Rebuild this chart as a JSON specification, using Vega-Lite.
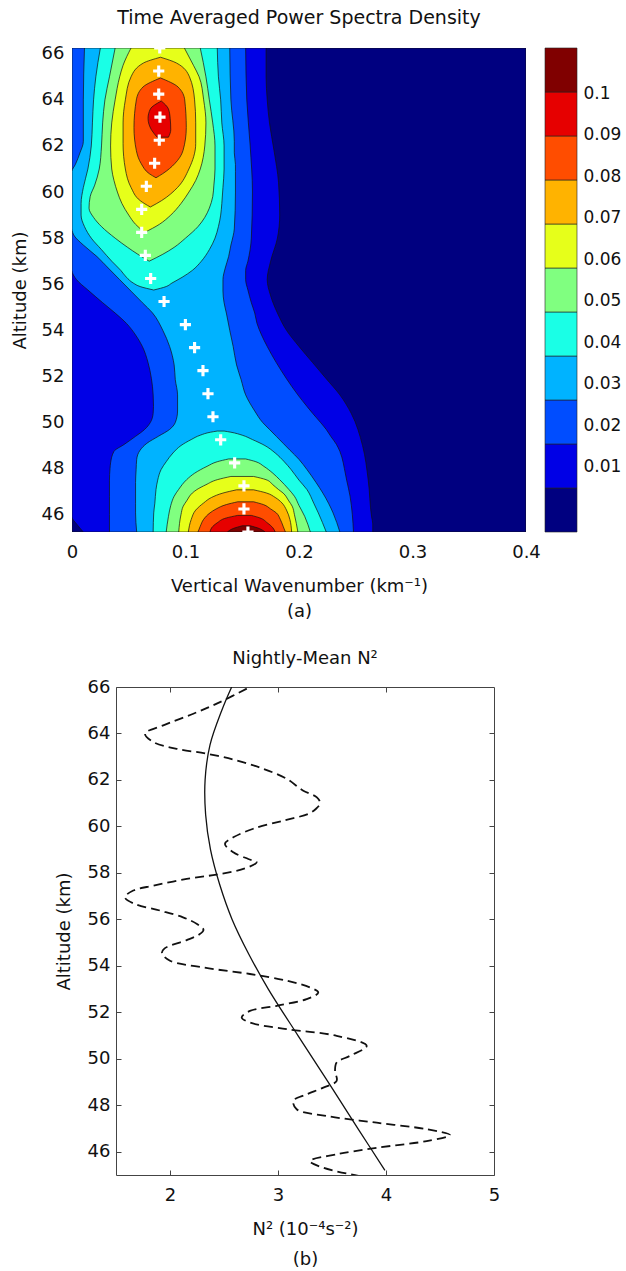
{
"$schema": "https://vega.github.io/schema/vega-lite/v6.json",
"background": "white",
"padding": {"left": 11, "top": 8, "right": 0, "bottom": 0},
"config": {
  "font": "DejaVu Sans",
  "view": {"stroke": null},
  "axis": {"labelFont": "DejaVu Sans", "titleFont": "DejaVu Sans", "labelColor": "#111", "titleColor": "#111", "titleFontWeight": "normal", "grid": false, "labelFontSize": 18, "titleFontSize": 18},
  "title": {"font": "DejaVu Sans", "fontWeight": "normal", "color": "#111"}
},
"datasets": {
  "contour": [
    {"lev":0,"p":"a","alt":45.25,"xl":0,"xr":0.4},{"lev":0,"p":"a","alt":66.25,"xl":0,"xr":0.4},
    {"lev":1,"p":"a","alt":45.25,"xl":0.010,"xr":0.265},{"lev":1,"p":"a","alt":45.6,"xl":0.004,"xr":0.265},{"lev":1,"p":"a","alt":45.9,"xl":0,"xr":0.264},{"lev":1,"p":"a","alt":47.5,"xl":0,"xr":0.261},{"lev":1,"p":"a","alt":49.0,"xl":0,"xr":0.256},{"lev":1,"p":"a","alt":50.4,"xl":0,"xr":0.246},{"lev":1,"p":"a","alt":51.2,"xl":0,"xr":0.236},{"lev":1,"p":"a","alt":51.9,"xl":0,"xr":0.224},{"lev":1,"p":"a","alt":52.6,"xl":0,"xr":0.212},{"lev":1,"p":"a","alt":53.3,"xl":0,"xr":0.200},{"lev":1,"p":"a","alt":54.0,"xl":0,"xr":0.189},{"lev":1,"p":"a","alt":54.75,"xl":0,"xr":0.181},{"lev":1,"p":"a","alt":55.5,"xl":0,"xr":0.175},{"lev":1,"p":"a","alt":56.2,"xl":0,"xr":0.172},{"lev":1,"p":"a","alt":57.0,"xl":0,"xr":0.175},{"lev":1,"p":"a","alt":58.0,"xl":0,"xr":0.181},{"lev":1,"p":"a","alt":59.0,"xl":0,"xr":0.183},{"lev":1,"p":"a","alt":60.4,"xl":0,"xr":0.182},{"lev":1,"p":"a","alt":61.8,"xl":0,"xr":0.178},{"lev":1,"p":"a","alt":63.0,"xl":0,"xr":0.174},{"lev":1,"p":"a","alt":64.0,"xl":0,"xr":0.172},{"lev":1,"p":"a","alt":65.0,"xl":0,"xr":0.171},{"lev":1,"p":"a","alt":66.25,"xl":0,"xr":0.171},
    {"lev":2,"p":"a","alt":45.25,"xl":0.033,"xr":0.248},{"lev":2,"p":"a","alt":46.0,"xl":0.033,"xr":0.247},{"lev":2,"p":"a","alt":46.8,"xl":0.033,"xr":0.245},{"lev":2,"p":"a","alt":47.5,"xl":0.033,"xr":0.242},{"lev":2,"p":"a","alt":48.0,"xl":0.0335,"xr":0.240},{"lev":2,"p":"a","alt":48.25,"xl":0.034,"xr":0.239},{"lev":2,"p":"a","alt":48.75,"xl":0.037,"xr":0.236},{"lev":2,"p":"a","alt":49.05,"xl":0.046,"xr":0.233},{"lev":2,"p":"a","alt":49.4,"xl":0.056,"xr":0.228},{"lev":2,"p":"a","alt":49.7,"xl":0.064,"xr":0.224},{"lev":2,"p":"a","alt":50.0,"xl":0.069,"xr":0.219},{"lev":2,"p":"a","alt":50.4,"xl":0.0715,"xr":0.212},{"lev":2,"p":"a","alt":50.7,"xl":0.0718,"xr":0.207},{"lev":2,"p":"a","alt":51.2,"xl":0.0715,"xr":0.199},{"lev":2,"p":"a","alt":51.9,"xl":0.070,"xr":0.189},{"lev":2,"p":"a","alt":52.6,"xl":0.067,"xr":0.180},{"lev":2,"p":"a","alt":53.3,"xl":0.062,"xr":0.172},{"lev":2,"p":"a","alt":53.8,"xl":0.056,"xr":0.167},{"lev":2,"p":"a","alt":54.3,"xl":0.048,"xr":0.163},{"lev":2,"p":"a","alt":54.75,"xl":0.038,"xr":0.161},{"lev":2,"p":"a","alt":55.2,"xl":0.027,"xr":0.158},{"lev":2,"p":"a","alt":55.75,"xl":0.014,"xr":0.155},{"lev":2,"p":"a","alt":56.2,"xl":0.004,"xr":0.153},{"lev":2,"p":"a","alt":56.6,"xl":0,"xr":0.153},{"lev":2,"p":"a","alt":57.0,"xl":0,"xr":0.155},{"lev":2,"p":"a","alt":58.0,"xl":0,"xr":0.158},{"lev":2,"p":"a","alt":60.0,"xl":0,"xr":0.159},{"lev":2,"p":"a","alt":62.0,"xl":0,"xr":0.157},{"lev":2,"p":"a","alt":64.0,"xl":0,"xr":0.154},{"lev":2,"p":"a","alt":66.25,"xl":0,"xr":0.153},
    {"lev":3,"p":"a","alt":45.25,"xl":0.057,"xr":0.236},{"lev":3,"p":"a","alt":46.08,"xl":0.056,"xr":0.230},{"lev":3,"p":"a","alt":46.5,"xl":0.056,"xr":0.226},{"lev":3,"p":"a","alt":46.94,"xl":0.056,"xr":0.221},{"lev":3,"p":"a","alt":47.4,"xl":0.056,"xr":0.215},{"lev":3,"p":"a","alt":47.96,"xl":0.0565,"xr":0.207},{"lev":3,"p":"a","alt":48.4,"xl":0.057,"xr":0.200},{"lev":3,"p":"a","alt":48.8,"xl":0.060,"xr":0.192},{"lev":3,"p":"a","alt":49.1,"xl":0.066,"xr":0.186},{"lev":3,"p":"a","alt":49.4,"xl":0.076,"xr":0.180},{"lev":3,"p":"a","alt":49.7,"xl":0.086,"xr":0.174},{"lev":3,"p":"a","alt":50.0,"xl":0.091,"xr":0.168},{"lev":3,"p":"a","alt":50.5,"xl":0.093,"xr":0.161},{"lev":3,"p":"a","alt":51.2,"xl":0.093,"xr":0.153},{"lev":3,"p":"a","alt":51.86,"xl":0.091,"xr":0.149},{"lev":3,"p":"a","alt":52.5,"xl":0.090,"xr":0.145},{"lev":3,"p":"a","alt":53.3,"xl":0.086,"xr":0.142},{"lev":3,"p":"a","alt":54.0,"xl":0.080,"xr":0.139},{"lev":3,"p":"a","alt":54.75,"xl":0.071,"xr":0.136},{"lev":3,"p":"a","alt":55.2,"xl":0.062,"xr":0.134},{"lev":3,"p":"a","alt":55.7,"xl":0.052,"xr":0.133},{"lev":3,"p":"a","alt":56.2,"xl":0.042,"xr":0.133},{"lev":3,"p":"a","alt":56.7,"xl":0.032,"xr":0.135},{"lev":3,"p":"a","alt":57.2,"xl":0.022,"xr":0.138},{"lev":3,"p":"a","alt":57.7,"xl":0.010,"xr":0.140},{"lev":3,"p":"a","alt":58.1,"xl":0.002,"xr":0.142},{"lev":3,"p":"a","alt":58.4,"xl":0,"xr":0.143},{"lev":3,"p":"a","alt":60.0,"xl":0,"xr":0.144},{"lev":3,"p":"a","alt":60.9,"xl":0,"xr":0.144},{"lev":3,"p":"a","alt":61.2,"xl":0.003,"xr":0.144},{"lev":3,"p":"a","alt":61.7,"xl":0.007,"xr":0.143},{"lev":3,"p":"a","alt":62.2,"xl":0.010,"xr":0.143},{"lev":3,"p":"a","alt":64.0,"xl":0.010,"xr":0.140},{"lev":3,"p":"a","alt":66.25,"xl":0.011,"xr":0.139},
    {"lev":4,"p":"t","alt":55.75,"xl":0.072,"xr":0.072},{"lev":4,"p":"t","alt":55.9,"xl":0.060,"xr":0.083},{"lev":4,"p":"t","alt":56.05,"xl":0.054,"xr":0.088},{"lev":4,"p":"t","alt":56.3,"xl":0.048,"xr":0.097},{"lev":4,"p":"t","alt":56.6,"xl":0.043,"xr":0.106},{"lev":4,"p":"t","alt":57.0,"xl":0.035,"xr":0.114},{"lev":4,"p":"t","alt":57.5,"xl":0.026,"xr":0.121},{"lev":4,"p":"t","alt":58.0,"xl":0.017,"xr":0.126},{"lev":4,"p":"t","alt":58.5,"xl":0.011,"xr":0.129},{"lev":4,"p":"t","alt":59.0,"xl":0.008,"xr":0.131},{"lev":4,"p":"t","alt":59.5,"xl":0.008,"xr":0.132},{"lev":4,"p":"t","alt":60.2,"xl":0.010,"xr":0.133},{"lev":4,"p":"t","alt":61.0,"xl":0.014,"xr":0.134},{"lev":4,"p":"t","alt":62.0,"xl":0.017,"xr":0.134},{"lev":4,"p":"t","alt":63.0,"xl":0.018,"xr":0.132},{"lev":4,"p":"t","alt":64.0,"xl":0.019,"xr":0.131},{"lev":4,"p":"t","alt":65.0,"xl":0.021,"xr":0.129},{"lev":4,"p":"t","alt":66.25,"xl":0.025,"xr":0.128},
    {"lev":4,"p":"b","alt":45.25,"xl":0.0715,"xr":0.224},{"lev":4,"p":"b","alt":46.08,"xl":0.072,"xr":0.217},{"lev":4,"p":"b","alt":46.5,"xl":0.073,"xr":0.213},{"lev":4,"p":"b","alt":47.09,"xl":0.074,"xr":0.207},{"lev":4,"p":"b","alt":47.5,"xl":0.0755,"xr":0.200},{"lev":4,"p":"b","alt":47.96,"xl":0.0785,"xr":0.193},{"lev":4,"p":"b","alt":48.3,"xl":0.083,"xr":0.187},{"lev":4,"p":"b","alt":48.68,"xl":0.089,"xr":0.179},{"lev":4,"p":"b","alt":49.0,"xl":0.096,"xr":0.170},{"lev":4,"p":"b","alt":49.26,"xl":0.105,"xr":0.159},{"lev":4,"p":"b","alt":49.45,"xl":0.113,"xr":0.150},{"lev":4,"p":"b","alt":49.58,"xl":0.122,"xr":0.140},{"lev":4,"p":"b","alt":49.63,"xl":0.128,"xr":0.134},
    {"lev":5,"p":"t","alt":57.0,"xl":0.068,"xr":0.068},{"lev":5,"p":"t","alt":57.3,"xl":0.058,"xr":0.080},{"lev":5,"p":"t","alt":57.6,"xl":0.049,"xr":0.090},{"lev":5,"p":"t","alt":58.0,"xl":0.038,"xr":0.100},{"lev":5,"p":"t","alt":58.5,"xl":0.026,"xr":0.111},{"lev":5,"p":"t","alt":58.9,"xl":0.019,"xr":0.117},{"lev":5,"p":"t","alt":59.3,"xl":0.015,"xr":0.121},{"lev":5,"p":"t","alt":59.8,"xl":0.016,"xr":0.124},{"lev":5,"p":"t","alt":60.3,"xl":0.020,"xr":0.125},{"lev":5,"p":"t","alt":61.0,"xl":0.024,"xr":0.126},{"lev":5,"p":"t","alt":62.0,"xl":0.026,"xr":0.126},{"lev":5,"p":"t","alt":63.0,"xl":0.027,"xr":0.124},{"lev":5,"p":"t","alt":64.0,"xl":0.029,"xr":0.121},{"lev":5,"p":"t","alt":65.0,"xl":0.033,"xr":0.118},{"lev":5,"p":"t","alt":66.25,"xl":0.038,"xr":0.113},
    {"lev":5,"p":"b","alt":45.25,"xl":0.083,"xr":0.210},{"lev":5,"p":"b","alt":45.93,"xl":0.085,"xr":0.205},{"lev":5,"p":"b","alt":46.4,"xl":0.087,"xr":0.200},{"lev":5,"p":"b","alt":46.8,"xl":0.090,"xr":0.196},{"lev":5,"p":"b","alt":47.1,"xl":0.094,"xr":0.191},{"lev":5,"p":"b","alt":47.52,"xl":0.101,"xr":0.183},{"lev":5,"p":"b","alt":47.8,"xl":0.108,"xr":0.177},{"lev":5,"p":"b","alt":48.1,"xl":0.119,"xr":0.169},{"lev":5,"p":"b","alt":48.3,"xl":0.128,"xr":0.162},{"lev":5,"p":"b","alt":48.42,"xl":0.138,"xr":0.153},
    {"lev":6,"p":"t","alt":58.25,"xl":0.064,"xr":0.064},{"lev":6,"p":"t","alt":58.6,"xl":0.056,"xr":0.077},{"lev":6,"p":"t","alt":59.0,"xl":0.050,"xr":0.087},{"lev":6,"p":"t","alt":59.5,"xl":0.044,"xr":0.096},{"lev":6,"p":"t","alt":60.0,"xl":0.040,"xr":0.103},{"lev":6,"p":"t","alt":60.5,"xl":0.037,"xr":0.109},{"lev":6,"p":"t","alt":61.0,"xl":0.035,"xr":0.113},{"lev":6,"p":"t","alt":62.0,"xl":0.034,"xr":0.117},{"lev":6,"p":"t","alt":63.0,"xl":0.035,"xr":0.118},{"lev":6,"p":"t","alt":64.0,"xl":0.038,"xr":0.116},{"lev":6,"p":"t","alt":65.0,"xl":0.042,"xr":0.112},{"lev":6,"p":"t","alt":65.5,"xl":0.045,"xr":0.107},{"lev":6,"p":"t","alt":66.25,"xl":0.052,"xr":0.099},
    {"lev":6,"p":"b","alt":45.25,"xl":0.094,"xr":0.199},{"lev":6,"p":"b","alt":46.0,"xl":0.096,"xr":0.196},{"lev":6,"p":"b","alt":46.37,"xl":0.098,"xr":0.194},{"lev":6,"p":"b","alt":46.6,"xl":0.101,"xr":0.191},{"lev":6,"p":"b","alt":46.94,"xl":0.106,"xr":0.186},{"lev":6,"p":"b","alt":47.09,"xl":0.110,"xr":0.182},{"lev":6,"p":"b","alt":47.3,"xl":0.118,"xr":0.177},{"lev":6,"p":"b","alt":47.52,"xl":0.128,"xr":0.171},{"lev":6,"p":"b","alt":47.66,"xl":0.140,"xr":0.160},
    {"lev":7,"p":"t","alt":59.35,"xl":0.069,"xr":0.069},{"lev":7,"p":"t","alt":59.63,"xl":0.060,"xr":0.079},{"lev":7,"p":"t","alt":60.2,"xl":0.052,"xr":0.093},{"lev":7,"p":"t","alt":61.0,"xl":0.047,"xr":0.103},{"lev":7,"p":"t","alt":62.1,"xl":0.045,"xr":0.109},{"lev":7,"p":"t","alt":63.0,"xl":0.045,"xr":0.109},{"lev":7,"p":"t","alt":64.0,"xl":0.047,"xr":0.108},{"lev":7,"p":"t","alt":65.0,"xl":0.052,"xr":0.1035},{"lev":7,"p":"t","alt":65.6,"xl":0.063,"xr":0.092},{"lev":7,"p":"t","alt":65.85,"xl":0.078,"xr":0.078},
    {"lev":7,"p":"b","alt":45.25,"xl":0.1025,"xr":0.1935},{"lev":7,"p":"b","alt":45.79,"xl":0.105,"xr":0.192},{"lev":7,"p":"b","alt":46.2,"xl":0.109,"xr":0.189},{"lev":7,"p":"b","alt":46.51,"xl":0.116,"xr":0.185},{"lev":7,"p":"b","alt":46.75,"xl":0.123,"xr":0.179},{"lev":7,"p":"b","alt":46.94,"xl":0.133,"xr":0.1715},{"lev":7,"p":"b","alt":47.08,"xl":0.145,"xr":0.160},
    {"lev":8,"p":"t","alt":60.62,"xl":0.074,"xr":0.074},{"lev":8,"p":"t","alt":60.8,"xl":0.068,"xr":0.080},{"lev":8,"p":"t","alt":61.23,"xl":0.061,"xr":0.0905},{"lev":8,"p":"t","alt":61.8,"xl":0.0567,"xr":0.0978},{"lev":8,"p":"t","alt":62.8,"xl":0.0546,"xr":0.1007},{"lev":8,"p":"t","alt":64.0,"xl":0.0567,"xr":0.0993},{"lev":8,"p":"t","alt":64.56,"xl":0.0626,"xr":0.0934},{"lev":8,"p":"t","alt":64.95,"xl":0.078,"xr":0.078},
    {"lev":8,"p":"b","alt":45.25,"xl":0.111,"xr":0.188},{"lev":8,"p":"b","alt":45.5,"xl":0.113,"xr":0.186},{"lev":8,"p":"b","alt":45.8,"xl":0.116,"xr":0.1835},{"lev":8,"p":"b","alt":46.08,"xl":0.1216,"xr":0.180},{"lev":8,"p":"b","alt":46.25,"xl":0.127,"xr":0.175},{"lev":8,"p":"b","alt":46.44,"xl":0.136,"xr":0.1686},{"lev":8,"p":"b","alt":46.56,"xl":0.146,"xr":0.160},
    {"lev":9,"p":"t","alt":62.38,"xl":0.075,"xr":0.085},{"lev":9,"p":"t","alt":62.7,"xl":0.070,"xr":0.087},{"lev":9,"p":"t","alt":63.2,"xl":0.067,"xr":0.0865},{"lev":9,"p":"t","alt":63.6,"xl":0.069,"xr":0.085},{"lev":9,"p":"t","alt":63.95,"xl":0.0787,"xr":0.0787},
    {"lev":9,"p":"b","alt":45.25,"xl":0.1216,"xr":0.179},{"lev":9,"p":"b","alt":45.43,"xl":0.123,"xr":0.177},{"lev":9,"p":"b","alt":45.65,"xl":0.128,"xr":0.172},{"lev":9,"p":"b","alt":45.86,"xl":0.136,"xr":0.1656},{"lev":9,"p":"b","alt":45.97,"xl":0.146,"xr":0.158},
    {"lev":10,"p":"b","alt":45.25,"xl":0.137,"xr":0.170},{"lev":10,"p":"b","alt":45.4,"xl":0.142,"xr":0.165},{"lev":10,"p":"b","alt":45.52,"xl":0.150,"xr":0.157}
  ],
  "peaks": [
    {"alt":45.25,"k":0.155},{"alt":46.25,"k":0.1515},{"alt":47.25,"k":0.1515},{"alt":48.25,"k":0.1433},{"alt":49.25,"k":0.131},{"alt":50.25,"k":0.1242},{"alt":51.25,"k":0.1198},{"alt":52.25,"k":0.1154},{"alt":53.25,"k":0.108},{"alt":54.25,"k":0.0999},{"alt":55.25,"k":0.0811},{"alt":56.25,"k":0.0693},{"alt":57.25,"k":0.0646},{"alt":58.25,"k":0.0614},{"alt":59.25,"k":0.0614},{"alt":60.25,"k":0.0655},{"alt":61.25,"k":0.0728},{"alt":62.25,"k":0.0769},{"alt":63.25,"k":0.0775},{"alt":64.25,"k":0.0764},{"alt":65.25,"k":0.0764},{"alt":66.25,"k":0.0773}
  ],
  "cbar": [
    {"bar":"cb","lev":0,"lo":-0.00567,"hi":0.00492},{"bar":"cb","lev":1,"lo":0.00492,"hi":0.01552},{"bar":"cb","lev":2,"lo":0.01552,"hi":0.02611},{"bar":"cb","lev":3,"lo":0.02611,"hi":0.0367},{"bar":"cb","lev":4,"lo":0.0367,"hi":0.0473},{"bar":"cb","lev":5,"lo":0.0473,"hi":0.05789},{"bar":"cb","lev":6,"lo":0.05789,"hi":0.06848},{"bar":"cb","lev":7,"lo":0.06848,"hi":0.07908},{"bar":"cb","lev":8,"lo":0.07908,"hi":0.08967},{"bar":"cb","lev":9,"lo":0.08967,"hi":0.10026},{"bar":"cb","lev":10,"lo":0.10026,"hi":0.11085}
  ],
  "n2": [
    {"s":"obs","alt":44.95,"n2":3.759},{"s":"obs","alt":45.31,"n2":3.42},{"s":"obs","alt":45.6,"n2":3.296},{"s":"obs","alt":45.89,"n2":3.543},{"s":"obs","alt":46.17,"n2":3.914},{"s":"obs","alt":46.46,"n2":4.377},{"s":"obs","alt":46.72,"n2":4.593},{"s":"obs","alt":46.97,"n2":4.377},{"s":"obs","alt":47.25,"n2":3.914},{"s":"obs","alt":47.54,"n2":3.45},{"s":"obs","alt":47.83,"n2":3.173},{"s":"obs","alt":48.19,"n2":3.142},{"s":"obs","alt":48.47,"n2":3.265},{"s":"obs","alt":48.76,"n2":3.42},{"s":"obs","alt":49.05,"n2":3.543},{"s":"obs","alt":49.48,"n2":3.528},{"s":"obs","alt":49.84,"n2":3.543},{"s":"obs","alt":50.13,"n2":3.667},{"s":"obs","alt":50.56,"n2":3.821},{"s":"obs","alt":50.99,"n2":3.543},{"s":"obs","alt":51.28,"n2":3.08},{"s":"obs","alt":51.56,"n2":2.74},{"s":"obs","alt":51.78,"n2":2.664},{"s":"obs","alt":52.06,"n2":2.74},{"s":"obs","alt":52.28,"n2":2.988},{"s":"obs","alt":52.57,"n2":3.265},{"s":"obs","alt":52.85,"n2":3.373},{"s":"obs","alt":53.07,"n2":3.296},{"s":"obs","alt":53.36,"n2":3.08},{"s":"obs","alt":53.65,"n2":2.74},{"s":"obs","alt":53.93,"n2":2.308},{"s":"obs","alt":54.22,"n2":2.0},{"s":"obs","alt":54.55,"n2":1.925},{"s":"obs","alt":54.75,"n2":1.95},{"s":"obs","alt":55.1,"n2":2.15},{"s":"obs","alt":55.35,"n2":2.27},{"s":"obs","alt":55.55,"n2":2.31},{"s":"obs","alt":55.8,"n2":2.25},{"s":"obs","alt":56.09,"n2":2.12},{"s":"obs","alt":56.38,"n2":1.907},{"s":"obs","alt":56.66,"n2":1.676},{"s":"obs","alt":56.95,"n2":1.583},{"s":"obs","alt":57.24,"n2":1.66},{"s":"obs","alt":57.45,"n2":1.845},{"s":"obs","alt":57.74,"n2":2.155},{"s":"obs","alt":57.93,"n2":2.432},{"s":"obs","alt":58.17,"n2":2.679},{"s":"obs","alt":58.46,"n2":2.802},{"s":"obs","alt":58.6,"n2":2.725},{"s":"obs","alt":58.89,"n2":2.586},{"s":"obs","alt":59.25,"n2":2.509},{"s":"obs","alt":59.53,"n2":2.586},{"s":"obs","alt":59.9,"n2":2.771},{"s":"obs","alt":60.25,"n2":3.05},{"s":"obs","alt":60.54,"n2":3.28},{"s":"obs","alt":60.75,"n2":3.35},{"s":"obs","alt":61.0,"n2":3.39},{"s":"obs","alt":61.25,"n2":3.36},{"s":"obs","alt":61.55,"n2":3.23},{"s":"obs","alt":62.05,"n2":3.08},{"s":"obs","alt":62.48,"n2":2.864},{"s":"obs","alt":62.84,"n2":2.618},{"s":"obs","alt":63.13,"n2":2.34},{"s":"obs","alt":63.34,"n2":2.062},{"s":"obs","alt":63.63,"n2":1.845},{"s":"obs","alt":63.99,"n2":1.769},{"s":"obs","alt":64.35,"n2":1.938},{"s":"obs","alt":64.85,"n2":2.216},{"s":"obs","alt":65.35,"n2":2.463},{"s":"obs","alt":66.0,"n2":2.74},
    {"s":"mean","alt":45.2,"n2":3.99},{"s":"mean","alt":47.0,"n2":3.74},{"s":"mean","alt":49.0,"n2":3.465},{"s":"mean","alt":51.0,"n2":3.185},{"s":"mean","alt":53.0,"n2":2.91},{"s":"mean","alt":54.5,"n2":2.73},{"s":"mean","alt":56.0,"n2":2.575},{"s":"mean","alt":57.5,"n2":2.46},{"s":"mean","alt":59.0,"n2":2.375},{"s":"mean","alt":60.5,"n2":2.33},{"s":"mean","alt":62.0,"n2":2.325},{"s":"mean","alt":63.5,"n2":2.37},{"s":"mean","alt":65.0,"n2":2.48},{"s":"mean","alt":66.0,"n2":2.571}
  ]
},
"spacing": 29,
"vconcat": [
  {
    "bounds": "flush",
    "spacing": 19,
    "hconcat": [
      {
        "width": 454, "height": 484,
        "title": {"text": "Time Averaged Power Spectra Density", "fontSize": 19, "offset": 17, "frame": "group"},
        "layer": [
          {
            "data": {"name": "contour"},
            "mark": {"type": "area", "orient": "horizontal", "interpolate": "monotone", "stroke": "#111", "strokeWidth": 0.7, "clip": true},
            "encoding": {
              "y": {"field": "alt", "type": "quantitative", "title": "Altitude (km)", "scale": {"domain": [45.25, 66.25], "nice": false, "zero": false},
                    "axis": {"values": [46,48,50,52,54,56,58,60,62,64,66], "ticks": false, "domain": false, "labelPadding": 8, "titlePadding": 12}},
              "x": {"field": "xl", "type": "quantitative", "stack": null, "title": ["Vertical Wavenumber (km⁻¹)", "(a)"], "scale": {"domain": [0, 0.4], "nice": false, "zero": false},
                    "axis": {"values": [0, 0.1, 0.2, 0.3, 0.4], "format": "~g", "ticks": false, "domain": false, "labelPadding": 11, "titlePadding": 16, "titleLineHeight": 25, "labelFlush": false}},
              "x2": {"field": "xr"},
              "color": {"field": "lev", "type": "ordinal", "legend": null,
                        "scale": {"domain": [0,1,2,3,4,5,6,7,8,9,10], "range": ["#000080","#0000E6","#004DFF","#00B3FF","#1AFFE6","#80FF80","#E6FF1A","#FFB300","#FF4D00","#E60000","#800000"]}},
              "detail": {"field": "p"}
            }
          },
          {
            "data": {"name": "peaks"},
            "mark": {"type": "point", "shape": "M-1,-0.28H1V0.28H-1Z M-0.28,-1H0.28V1H-0.28Z", "filled": true, "fill": "white", "opacity": 1, "size": 125, "strokeWidth": 0, "clip": true},
            "encoding": {
              "y": {"field": "alt", "type": "quantitative", "title": "Altitude (km)"},
              "x": {"field": "k", "type": "quantitative", "title": ["Vertical Wavenumber (km⁻¹)", "(a)"]}
            }
          }
        ]
      },
      {
        "width": 32, "height": 484,
        "data": {"name": "cbar"},
        "mark": {"type": "rect", "stroke": "#222", "strokeWidth": 0.6},
        "encoding": {
          "x": {"field": "bar", "type": "nominal", "axis": null, "scale": {"paddingInner": 0, "paddingOuter": 0}},
          "y": {"field": "lo", "type": "quantitative", "scale": {"domain": [-0.00567, 0.11085], "nice": false, "zero": false},
                "axis": {"orient": "right", "values": [0.01,0.02,0.03,0.04,0.05,0.06,0.07,0.08,0.09,0.1], "format": "~g", "ticks": false, "domain": false, "labelPadding": 6, "labelFontSize": 17, "title": null}},
          "y2": {"field": "hi"},
          "color": {"field": "lev", "type": "ordinal", "legend": null,
                    "scale": {"domain": [0,1,2,3,4,5,6,7,8,9,10], "range": ["#000080","#0000E6","#004DFF","#00B3FF","#1AFFE6","#80FF80","#E6FF1A","#FFB300","#FF4D00","#E60000","#800000"]}}
        }
      }
    ]
  },
  {
    "bounds": "flush",
    "spacing": 0,
    "hconcat": [
      {"width": 44, "height": 10, "data": {"values": []}, "mark": "point", "encoding": {}},
      {
        "width": 378, "height": 488,
        "title": {"text": "Nightly-Mean N²", "fontSize": 18, "offset": 10, "frame": "group"},
        "data": {"name": "n2"},
        "view": {"stroke": "#444", "strokeWidth": 1},
        "resolve": {"axis": {"x": "independent", "y": "independent"}},
        "layer": [
          {
            "transform": [{"filter": "datum.s == 'obs'"}],
            "mark": {"type": "line", "strokeDash": [9, 5], "strokeWidth": 1.8, "color": "#111", "interpolate": "catmull-rom", "clip": true},
            "encoding": {
              "x": {"field": "n2", "type": "quantitative", "title": ["N² (10⁻⁴s⁻²)", "(b)"], "scale": {"domain": [1.5, 5], "nice": false, "zero": false},
                    "axis": {"orient": "bottom", "values": [2,3,4,5], "tickSize": -5, "tickColor": "#444", "domain": false, "labelPadding": 16, "titlePadding": 16, "titleLineHeight": 30, "labelFlush": false}},
              "y": {"field": "alt", "type": "quantitative", "title": "Altitude (km)", "scale": {"domain": [45, 66], "nice": false, "zero": false},
                    "axis": {"orient": "left", "values": [46,48,50,52,54,56,58,60,62,64,66], "tickSize": -5, "tickColor": "#444", "domain": false, "labelPadding": 11, "titlePadding": 14}},
              "order": {"field": "alt", "type": "quantitative"}
            }
          },
          {
            "transform": [{"filter": "datum.s == 'mean'"}],
            "mark": {"type": "line", "strokeWidth": 1.3, "color": "#111", "interpolate": "catmull-rom", "clip": true},
            "encoding": {
              "x": {"field": "n2", "type": "quantitative", "scale": {"domain": [1.5, 5], "nice": false, "zero": false},
                    "axis": {"orient": "top", "values": [2,3,4], "labels": false, "title": null, "tickSize": -5, "tickColor": "#444", "domain": false}},
              "y": {"field": "alt", "type": "quantitative", "scale": {"domain": [45, 66], "nice": false, "zero": false},
                    "axis": {"orient": "right", "values": [46,48,50,52,54,56,58,60,62,64], "labels": false, "title": null, "tickSize": -5, "tickColor": "#444", "domain": false}},
              "order": {"field": "alt", "type": "quantitative"}
            }
          }
        ]
      }
    ]
  }
]
}
